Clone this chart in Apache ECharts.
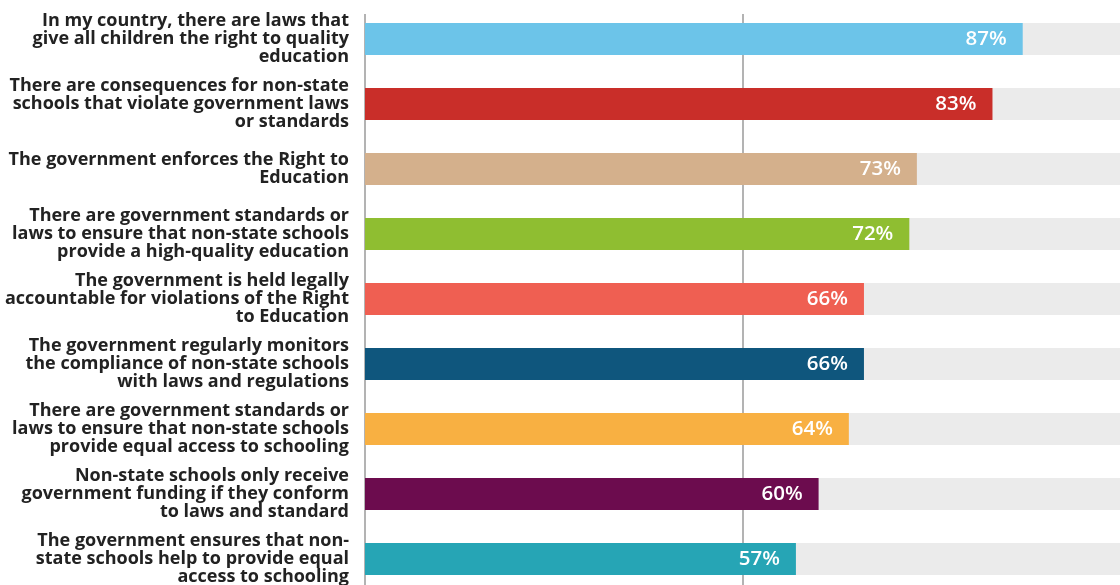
<!DOCTYPE html>
<html>
<head>
<meta charset="utf-8">
<script src="https://cdn.jsdelivr.net/npm/echarts@6/dist/echarts.min.js"></script>
<style>
html,body{margin:0;padding:0;background:#fff;}
#chart{width:1120px;height:585px;}
</style>
</head>
<body>
<div id="chart"></div>
<script>
const categories = [
  "In my country, there are laws that\ngive all children the right to quality\neducation",
  "There are consequences for non-state\nschools that violate government laws\nor standards",
  "The government enforces the Right to\nEducation",
  "There are government standards or\nlaws to ensure that non-state schools\nprovide a high-quality education",
  "The government is held legally\naccountable for violations of the Right\nto Education",
  "The government regularly monitors\nthe compliance of non-state schools\nwith laws and regulations",
  "There are government standards or\nlaws to ensure that non-state schools\nprovide equal access to schooling",
  "Non-state schools only receive\ngovernment funding if they conform\nto laws and standard",
  "The government ensures that non-\nstate schools help to provide equal\naccess to schooling"
];
const values = [87, 83, 73, 72, 66, 66, 64, 60, 57];
const totals = [100, 100, 100, 100, 100, 100, 100, 100, 100];
const colors = ["#6cc4e9", "#c92e29", "#d4b08c", "#8fbe31", "#ef5f52", "#0f567d", "#f8b042", "#6c0c4e", "#26a5b5"];

const chart = echarts.init(document.getElementById('chart'));
const FONT = '"Open Sans", "Noto Sans", sans-serif';
chart.setOption({
  animation: false,
  grid: [
    { left: 365, width: 756, top: 6.5, height: 585, containLabel: false, outerBoundsMode: 'none' },
    { left: 365, width: 756, top: 14, height: 600, containLabel: false, outerBoundsMode: 'none' }
  ],
  xAxis: [
    { gridIndex: 0, type: 'value', min: 0, max: 100, show: false },
    { gridIndex: 1, type: 'value', min: 0, max: 100, interval: 50,
      axisLine: { show: false }, axisTick: { show: false }, axisLabel: { show: false },
      splitLine: { show: true, lineStyle: { color: '#9a9a9a', width: 1.5 } } }
  ],
  yAxis: [
    { gridIndex: 0, type: 'category', data: categories, inverse: true,
      axisLine: { show: false }, axisTick: { show: false },
      axisLabel: { margin: 16, fontFamily: FONT, fontWeight: 'bold', fontSize: 18,
        lineHeight: 18, color: '#222', align: 'right' } },
    { gridIndex: 1, type: 'category', data: categories, inverse: true,
      axisLine: { show: false }, axisTick: { show: false }, axisLabel: { show: false } }
  ],
  series: [
    { type: 'bar', xAxisIndex: 0, yAxisIndex: 0, data: totals, barWidth: 32,
      itemStyle: { color: '#ebebeb' }, silent: true, z: 1 },
    { type: 'bar', xAxisIndex: 0, yAxisIndex: 0, barGap: '-100%', barWidth: 32, z: 3,
      data: values.map((v, i) => ({ value: v, itemStyle: { color: colors[i] } })),
      label: { show: true, position: 'insideRight', distance: 16, color: '#fff',
        fontFamily: FONT, fontWeight: 600, fontSize: 20.5, formatter: '{c}%' } }
  ]
});
</script>
</body>
</html>
